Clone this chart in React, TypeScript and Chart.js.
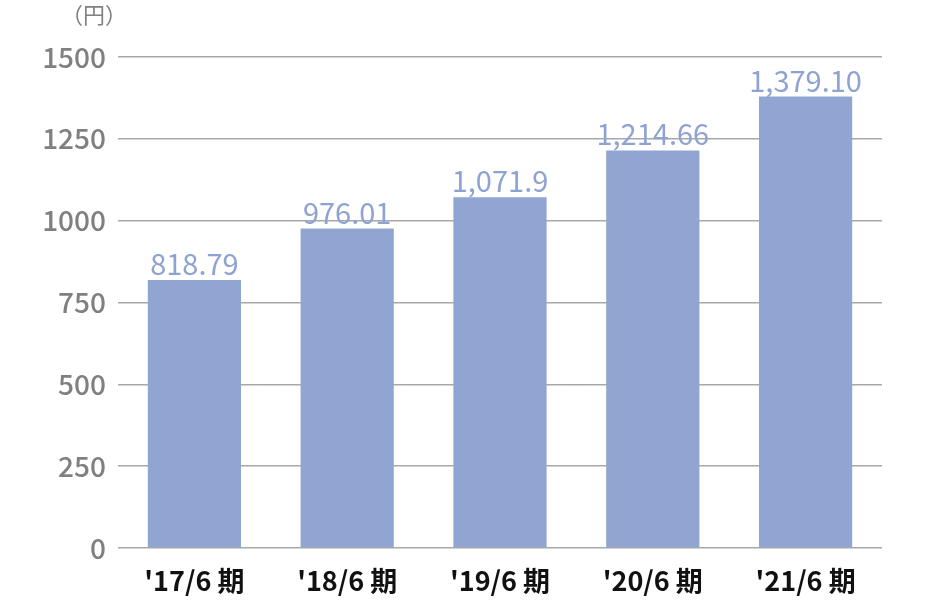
import React, { useEffect, useRef } from "react";
import { Chart, registerables } from "chart.js";

Chart.register(...registerables);

const categories = ["'17/6 期", "'18/6 期", "'19/6 期", "'20/6 期", "'21/6 期"];
const values = [818.79, 976.01, 1071.9, 1214.66, 1379.1];
const valueLabels = ["818.79", "976.01", "1,071.9", "1,214.66", "1,379.10"];
const yTicks = [0, 250, 500, 750, 1000, 1250, 1500];
const unitLabel = "（円）";

const FONT = "'Noto Sans CJK JP', 'Noto Sans', sans-serif";
const BAR = "#91a5d2";

const labelPlugin = {
  id: "valueLabels",
  afterDatasetsDraw(chart: any) {
    const ctx = chart.ctx;
    const meta = chart.getDatasetMeta(0);
    ctx.save();
    ctx.font = `400 29px ${FONT}`;
    ctx.fillStyle = "#8fa3d3";
    ctx.textAlign = "center";
    ctx.textBaseline = "alphabetic";
    meta.data.forEach((el: any, i: number) => {
      ctx.fillText(valueLabels[i], el.x, el.y - 5);
    });
    ctx.font = `400 22px ${FONT}`;
    ctx.fillStyle = "#808080";
    ctx.textAlign = "center";
    ctx.textBaseline = "middle";
    ctx.fillText(unitLabel, 94, 15);
    ctx.restore();
  },
};

export default function App() {
  const ref = useRef<HTMLCanvasElement | null>(null);
  useEffect(() => {
    if (!ref.current) return;
    const chart = new Chart(ref.current, {
      type: "bar",
      data: {
        labels: categories,
        datasets: [
          {
            data: values,
            backgroundColor: BAR,
            categoryPercentage: 0.61,
            barPercentage: 1,
          },
        ],
      },
      options: {
        animation: false,
        responsive: true,
        maintainAspectRatio: false,
        layout: { padding: { top: 57, right: 48, left: 0, bottom: 0 } },
        plugins: { legend: { display: false }, tooltip: { enabled: false } },
        scales: {
          x: {
            grid: { display: false },
            border: { display: false },
            ticks: {
              color: "#111",
              font: { family: FONT, size: 27, weight: "bold" },
              padding: 9,
            },
            afterFit: (s: any) => {
              s.height = 52;
            },
          },
          y: {
            min: 0,
            max: 1500,
            afterBuildTicks: (s: any) => {
              s.ticks = yTicks.map((v) => ({ value: v }));
            },
            grid: { color: "#a8a8a8", lineWidth: 1.5, drawTicks: false },
            border: { display: false },
            ticks: {
              color: "#808080",
              font: { family: FONT, size: 28, weight: 500 },
              padding: 12,
              callback: (v: any) => String(v),
            },
            afterFit: (s: any) => {
              s.width = 118;
            },
          },
        },
      },
      plugins: [labelPlugin],
    });
    return () => chart.destroy();
  }, []);
  return (
    <div style={{ position: "fixed", left: 0, top: 0, width: 930, height: 600, background: "#fff" }}>
      <canvas ref={ref} />
    </div>
  );
}
